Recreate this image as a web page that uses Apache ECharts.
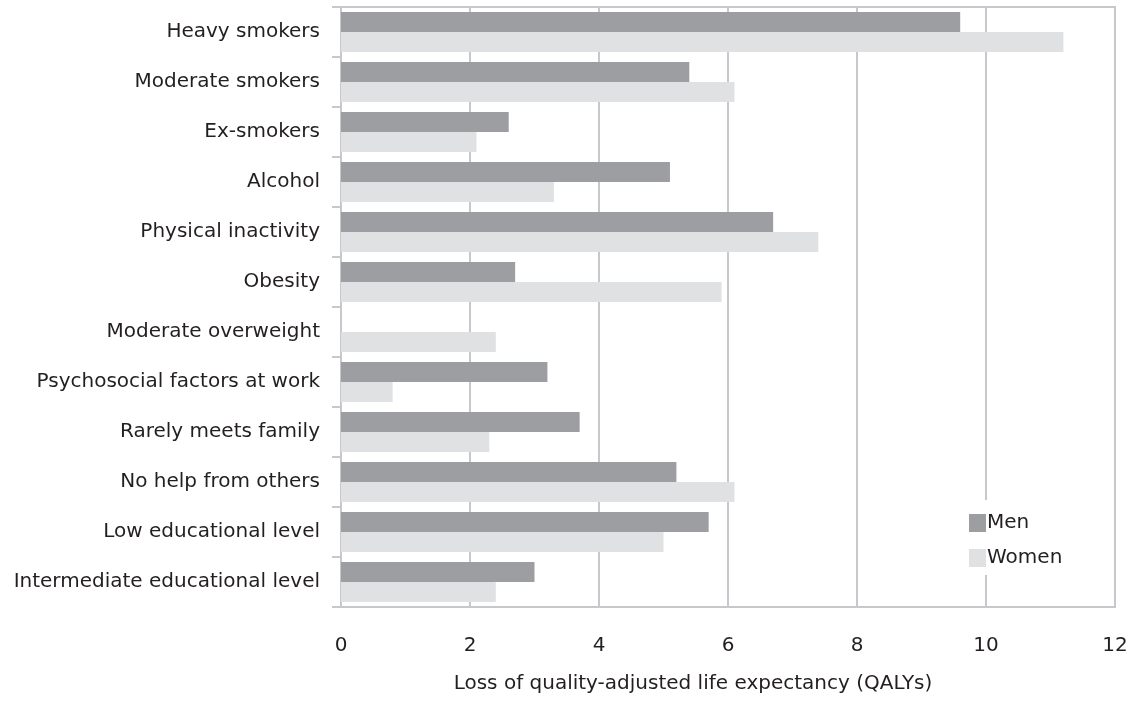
<!DOCTYPE html>
<html>
<head>
<meta charset="utf-8">
<script src="https://cdn.jsdelivr.net/npm/echarts@6/dist/echarts.min.js"></script>
<style>
html,body{margin:0;padding:0;background:#fff;}
#chart{width:1137px;height:701px;}
</style>
</head>
<body>
<div id="chart"></div>
<script>
const categories = [
  "Heavy smokers",
  "Moderate smokers",
  "Ex-smokers",
  "Alcohol",
  "Physical inactivity",
  "Obesity",
  "Moderate overweight",
  "Psychosocial factors at work",
  "Rarely meets family",
  "No help from others",
  "Low educational level",
  "Intermediate educational level"
];
const men   = [9.6, 5.4, 2.6, 5.1, 6.7, 2.7, null, 3.2, 3.7, 5.2, 5.7, 3.0];
const women = [11.2, 6.1, 2.1, 3.3, 7.4, 5.9, 2.4, 0.8, 2.3, 6.1, 5.0, 2.4];
const xTicks = [0, 2, 4, 6, 8, 10, 12];
const xTitle = "Loss of quality-adjusted life expectancy (QALYs)";

const FONT = '"DejaVu Sans", sans-serif';
const FS = 20;
const TXT = '#231f20';
const GRID = '#c8c8cc';

const chart = echarts.init(document.getElementById('chart'), null, {renderer: 'canvas'});
chart.setOption({
  animation: false,
  backgroundColor: '#fff',
  textStyle: {fontFamily: FONT},
  grid: {
    left: 341, right: 22, top: 7, bottom: 94,
    show: true, borderColor: GRID, borderWidth: 2, backgroundColor: 'transparent'
  },
  legend: {
    orient: 'vertical',
    left: 967, top: 500,
    padding: [13, 8, 7, 2],
    backgroundColor: '#fff',
    itemWidth: 17, itemHeight: 18, itemGap: 15,
    icon: 'rect',
    textStyle: {fontFamily: FONT, fontSize: FS, color: TXT, padding: [0, 0, 0, -4]},
    data: ['Men', 'Women']
  },
  xAxis: {
    type: 'value',
    min: xTicks[0], max: xTicks[xTicks.length - 1], interval: 2,
    axisLine: {show: true, lineStyle: {color: GRID, width: 2}},
    axisTick: {show: false},
    splitLine: {show: true, lineStyle: {color: GRID, width: 2}},
    axisLabel: {fontFamily: FONT, fontSize: FS, color: TXT, margin: 29},
    name: xTitle,
    nameLocation: 'middle',
    nameGap: 67,
    nameTextStyle: {fontFamily: FONT, fontSize: FS, color: TXT, padding: [0, 70, 0, 0]}
  },
  yAxis: {
    type: 'category',
    inverse: true,
    data: categories,
    axisLine: {show: true, lineStyle: {color: GRID, width: 2}},
    axisTick: {show: true, length: 9, lineStyle: {color: GRID, width: 2}},
    splitLine: {show: false},
    axisLabel: {fontFamily: FONT, fontSize: FS, color: TXT, margin: 21}
  },
  series: [
    {
      name: 'Men', type: 'bar', data: men,
      barWidth: 20, barGap: '0%',
      itemStyle: {color: '#9d9ea2'}
    },
    {
      name: 'Women', type: 'bar', data: women,
      barWidth: 20, barGap: '0%',
      itemStyle: {color: '#e0e1e3'}
    }
  ]
});
</script>
</body>
</html>
